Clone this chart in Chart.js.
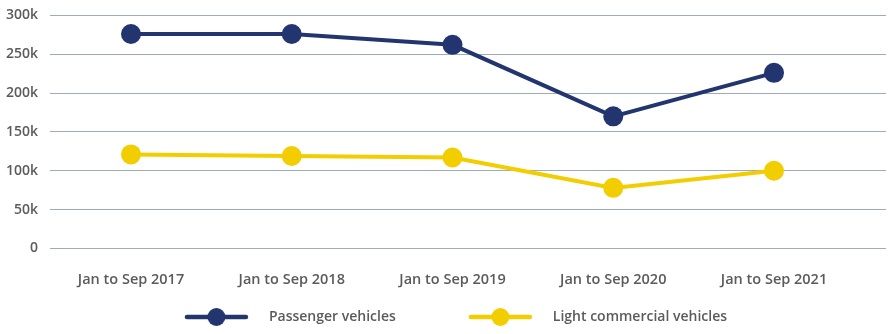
<!DOCTYPE html>
<html><head><meta charset="utf-8">
<script src="https://cdn.jsdelivr.net/npm/chart.js@4/dist/chart.umd.min.js"></script>
<style>html,body{margin:0;padding:0;background:#fff}#wrap{width:891px;height:334px}</style>
</head><body><div id="wrap"><canvas id="c" width="891" height="334"></canvas></div>
<script>
const categories = ['Jan to Sep 2017', 'Jan to Sep 2018', 'Jan to Sep 2019', 'Jan to Sep 2020', 'Jan to Sep 2021'];
const passengerVehicles = [276000, 276000, 262000, 170000, 226000];
const lightCommercialVehicles = [121000, 119000, 117000, 78000, 100000];
const seriesNames = ['Passenger vehicles', 'Light commercial vehicles'];
const yTickValues = [0, 50000, 100000, 150000, 200000, 250000, 300000];
const yTickLabels = ['0', '50k', '100k', '150k', '200k', '250k', '300k'];

const NAVY = '#22356f';
const YELLOW = '#f2cd00';
const TEXT = '#5b5b5b';
const FONT = {family: "'Open Sans', sans-serif", size: 14, weight: '600'};
const XFONT = {family: "'Open Sans', sans-serif", size: 14.5, weight: '600'};

function makeIcon(color) {
  const c = document.createElement('canvas');
  c.width = 103; c.height = 22;
  const g = c.getContext('2d');
  g.strokeStyle = color; g.lineWidth = 4.5; g.lineCap = 'round';
  g.beginPath(); g.moveTo(28, 11); g.lineTo(87, 11); g.stroke();
  g.fillStyle = color; g.beginPath(); g.arc(57.5, 11, 9, 0, Math.PI * 2); g.fill();
  return c;
}
const icons = [makeIcon(NAVY), makeIcon(YELLOW)];

const toPoints = arr => arr.map((v, i) => ({x: i, y: v}));

new Chart(document.getElementById('c'), {
  type: 'line',
  data: {
    datasets: [
      {label: seriesNames[0], data: toPoints(passengerVehicles), borderColor: NAVY, backgroundColor: NAVY,
       pointBackgroundColor: NAVY, borderWidth: 4, pointRadius: 10, pointBorderWidth: 0, pointHoverRadius: 10, tension: 0},
      {label: seriesNames[1], data: toPoints(lightCommercialVehicles), borderColor: YELLOW, backgroundColor: YELLOW,
       pointBackgroundColor: YELLOW, borderWidth: 4, pointRadius: 10, pointBorderWidth: 0, pointHoverRadius: 10, tension: 0}
    ]
  },
  options: {
    responsive: false,
    animation: false,
    events: [],
    layout: {autoPadding: false, padding: {top: 15.3, right: 5, left: 0, bottom: 0}},
    scales: {
      x: {
        type: 'linear',
        min: -0.5039, max: 4.6967,
        afterBuildTicks: axis => { axis.ticks = categories.map((_, i) => ({value: i})); },
        afterFit: axis => { axis.height = 14.5; axis.paddingLeft = 0; axis.paddingRight = 0; axis.paddingTop = 0; axis.paddingBottom = 0; },
        grid: {display: false, drawTicks: false},
        border: {display: false},
        ticks: {
          mirror: true,
          autoSkip: false, maxRotation: 0, padding: -40, color: TEXT, font: XFONT,
          callback: v => categories[v]
        }
      },
      y: {
        min: 0, max: 300000,
        afterBuildTicks: axis => { axis.ticks = yTickValues.map(v => ({value: v})); },
        afterFit: axis => { axis.width = 50; axis.paddingTop = 0; axis.paddingBottom = 0; axis.paddingLeft = 0; axis.paddingRight = 0; },
        grid: {color: '#9dacbc', lineWidth: 1, drawTicks: false},
        border: {display: false},
        ticks: {
          padding: 12, color: TEXT, font: FONT,
          callback: v => yTickLabels[yTickValues.indexOf(v)]
        }
      }
    },
    plugins: {
      tooltip: {enabled: false},
      legend: {
        position: 'bottom',
        labels: {
          usePointStyle: true,
          pointStyleWidth: 103,
          boxHeight: 14,
          padding: 47,
          color: TEXT,
          font: FONT,
          generateLabels: chart => {
            const items = Chart.defaults.plugins.legend.labels.generateLabels(chart);
            items.forEach((it, i) => { it.pointStyle = icons[i]; });
            return items;
          }
        }
      }
    }
  }
});
</script></body></html>
